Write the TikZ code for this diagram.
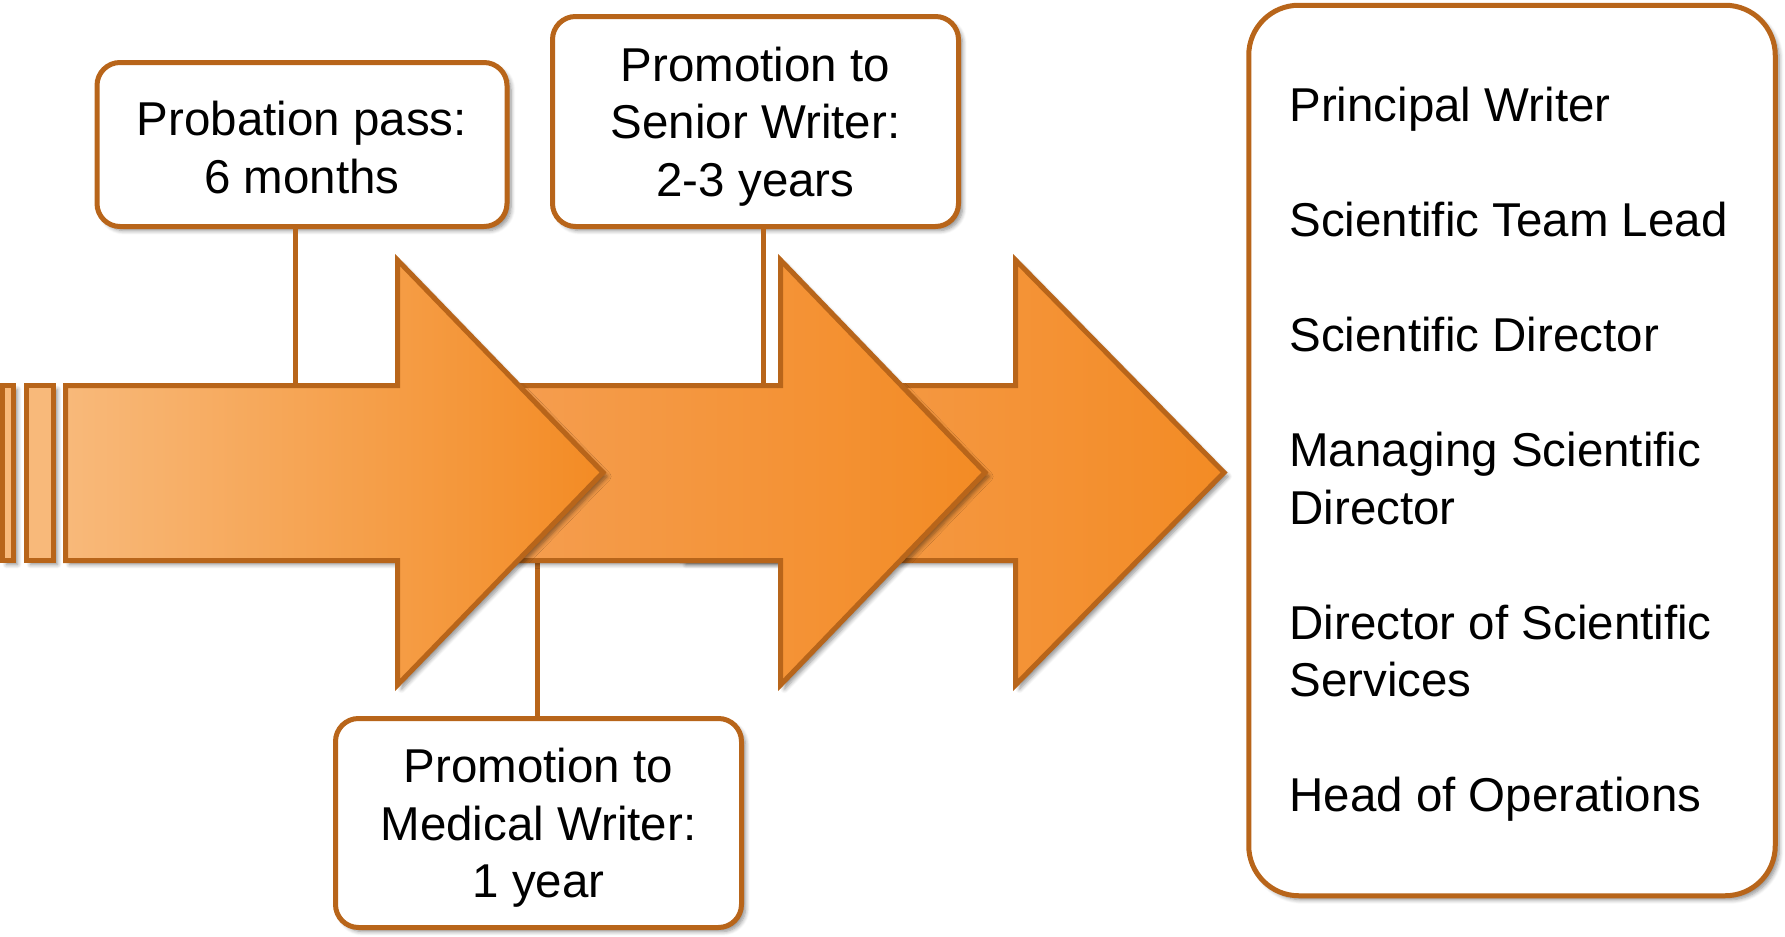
\documentclass[tikz,border=0pt]{standalone}
\usepackage{fontspec}
\setmainfont{Liberation Sans}
\usetikzlibrary{shadows.blur}
\definecolor{edge}{HTML}{B8651A}
\definecolor{oLight}{HTML}{F8B97A}
\definecolor{oMid}{HTML}{F5A055}
\definecolor{oDark}{HTML}{F38B24}
\tikzset{
  shade/.style={blur shadow={shadow xshift=2pt, shadow yshift=-2pt, shadow blur steps=6, shadow opacity=45}},
  callout/.style={draw=edge, line width=2.5pt, fill=white, rounded corners=11.5pt, inner sep=0pt, shade},
  callouttext/.style={align=center, font=\fontsize{23.75}{28.75}\selectfont, inner sep=0pt},
  rolebox/.style={draw=edge, line width=2.5pt, fill=white, rounded corners=25pt, inner sep=0pt, shade},
  roletext/.style={align=left, font=\fontsize{23.75}{28.75}\selectfont, inner sep=0pt},
  conn/.style={draw=edge, line width=2.5pt},
  arrowbody/.style={draw=edge, line width=2.5pt, line join=miter, shade},
}
\begin{document}
\begin{tikzpicture}[x=0.5pt, y=-0.5pt]
\useasboundingbox (0,0) rectangle (1785,937);

% boxes
\node[callout, minimum width=205pt, minimum height=82pt] (b1) at (302,144.5) {};
\node[callouttext, yshift=-1.5pt] (b1t) at (b1.center) {Probation pass:\\6 months};
\node[callout, minimum width=203pt, minimum height=105pt] (b2) at (755.5,121.5) {};
\node[callouttext, yshift=-2.5pt] (b2t) at (b2.center) {Promotion to\\Senior Writer:\\2-3 years};
\node[callout, minimum width=203pt, minimum height=104.5pt] (b3) at (538.5,823) {};
\node[callouttext, yshift=-2.5pt] (b3t) at (b3.center) {Promotion to\\Medical Writer:\\1 year};
\node[rolebox, minimum width=263.25pt, minimum height=445.25pt] (roles) at (1512,450.5) {};
\node[roletext, anchor=west, yshift=-2pt] (rolelist) at (1289,450.5)
  {Principal Writer\\[28.75pt]
   Scientific Team Lead\\[28.75pt]
   Scientific Director\\[28.75pt]
   Managing Scientific\\Director\\[28.75pt]
   Director of Scientific\\Services\\[28.75pt]
   Head of Operations};

% connector end points on the arrow shaft
\coordinate (c1) at (295,386);
\coordinate (c2) at (763,386);
\coordinate (c3) at (537,558);

% connectors (drawn below the arrows)
\draw[conn] (c1 |- b1.south) -- (c1);
\draw[conn] (c2 |- b2.south) -- (c2);
\draw[conn] (c3 |- b3.north) -- (c3);

% arrows, back to front
\path[arrowbody, left color=oMid, right color=oDark]
  (682,385.5) -- (1015.5,385.5) -- (1015.5,260) -- (1224,472.5) -- (1015.5,685)
  -- (1015.5,560.5) -- (682,560.5) -- cycle;
\path[arrowbody, left color=oMid, right color=oDark]
  (448,385.5) -- (780.5,385.5) -- (780.5,260) -- (985,472.5) -- (780.5,685)
  -- (780.5,560.5) -- (448,560.5) -- cycle;
\path[arrowbody, left color=oLight, right color=oDark]
  (65.5,385.5) -- (397.5,385.5) -- (397.5,260) -- (603,472.5) -- (397.5,685)
  -- (397.5,560.5) -- (65.5,560.5) -- cycle;

% small bars at the left
\path[arrowbody, fill=oLight] (2.5,385.5) rectangle (13.5,560.5);
\path[arrowbody, fill=oLight] (26.5,385.5) rectangle (53.5,560.5);
\end{tikzpicture}
\end{document}
